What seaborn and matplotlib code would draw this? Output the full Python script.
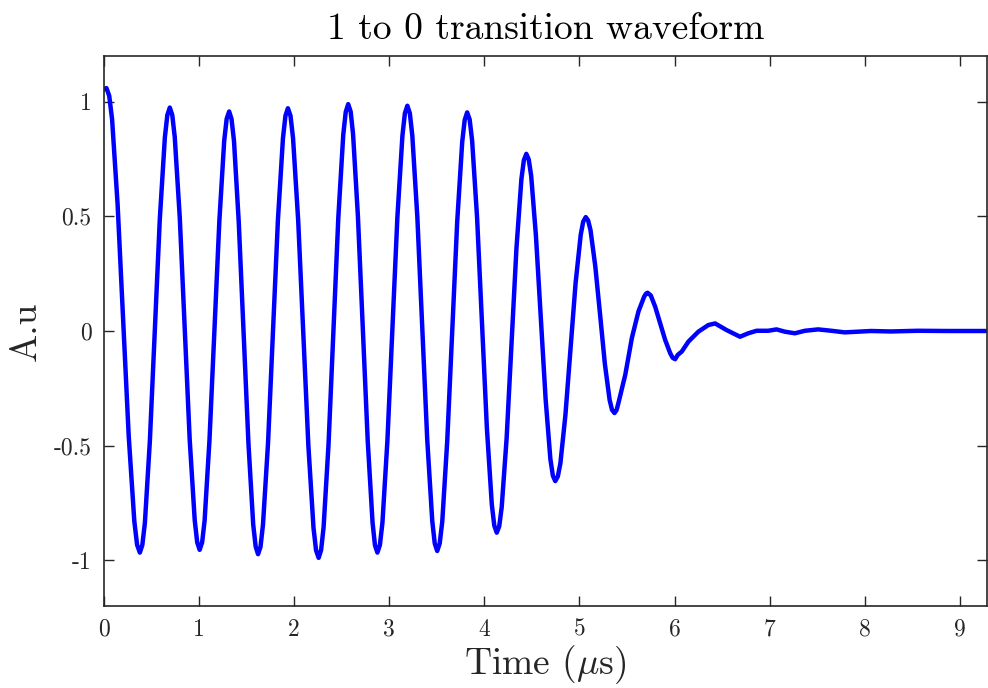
import matplotlib
matplotlib.use("Agg")
import matplotlib.pyplot as plt
import numpy as np
import pandas as pd
import seaborn as sns

# waveform (time in us, amplitude in a.u.)
t_us = [
    0.000, 0.026, 0.055, 0.085, 0.143, 0.202, 0.260, 0.319, 0.348,
    0.377, 0.403, 0.430, 0.482, 0.535, 0.587, 0.640, 0.666,
    0.692, 0.718, 0.744, 0.797, 0.849, 0.901, 0.954, 0.980,
    1.006, 1.032, 1.058, 1.109, 1.161, 1.213, 1.264, 1.290,
    1.316, 1.341, 1.367, 1.417, 1.468, 1.519, 1.569, 1.595,
    1.620, 1.646, 1.672, 1.725, 1.777, 1.829, 1.882, 1.908,
    1.934, 1.961, 1.988, 2.042, 2.096, 2.149, 2.203, 2.230,
    2.257, 2.283, 2.309, 2.361, 2.413, 2.464, 2.516, 2.542,
    2.568, 2.594, 2.619, 2.670, 2.722, 2.773, 2.824, 2.849,
    2.875, 2.901, 2.928, 2.980, 3.033, 3.085, 3.138, 3.164,
    3.190, 3.216, 3.242, 3.295, 3.347, 3.399, 3.452, 3.478,
    3.504, 3.530, 3.557, 3.609, 3.662, 3.714, 3.767, 3.793,
    3.819, 3.845, 3.871, 3.923, 3.975, 4.026, 4.078, 4.104,
    4.130, 4.156, 4.182, 4.234, 4.286, 4.337, 4.389, 4.415,
    4.441, 4.466, 4.492, 4.542, 4.593, 4.644, 4.694, 4.720,
    4.745, 4.772, 4.799, 4.852, 4.906, 4.959, 5.013, 5.039,
    5.066, 5.091, 5.116, 5.166, 5.217, 5.267, 5.317, 5.342,
    5.368, 5.390, 5.412, 5.482, 5.551, 5.620, 5.680, 5.700,
    5.716, 5.750, 5.796, 5.849, 5.901, 5.954, 5.980,
    6.006, 6.034, 6.075, 6.146, 6.250, 6.355, 6.426, 6.547,
    6.688, 6.775, 6.862, 6.985, 7.072, 7.160, 7.265, 7.370,
    7.509, 7.649, 7.789, 8.065, 8.275, 8.558, 8.872, 9.271,
]
amp = [
    1.055, 1.060, 1.026, 0.924, 0.553, 0.046, -0.460, -0.831, -0.933,
    -0.967, -0.934, -0.837, -0.482, 0.004, 0.490, 0.845, 0.942,
    0.975, 0.942, 0.846, 0.493, 0.010, -0.473, -0.826, -0.922,
    -0.955, -0.922, -0.827, -0.477, 0.002, 0.480, 0.830, 0.926,
    0.958, 0.925, 0.829, 0.475, -0.008, -0.491, -0.845, -0.941,
    -0.974, -0.941, -0.844, -0.488, -0.001, 0.486, 0.842, 0.939,
    0.972, 0.939, 0.841, 0.482, -0.009, -0.500, -0.859, -0.957,
    -0.990, -0.956, -0.857, -0.495, 0.000, 0.495, 0.857, 0.956,
    0.990, 0.957, 0.859, 0.501, 0.012, -0.478, -0.836, -0.934,
    -0.967, -0.934, -0.836, -0.480, 0.008, 0.496, 0.852, 0.950,
    0.983, 0.950, 0.853, 0.497, 0.012, -0.474, -0.830, -0.927,
    -0.960, -0.927, -0.832, -0.482, -0.003, 0.476, 0.826, 0.921,
    0.954, 0.923, 0.831, 0.496, 0.037, -0.422, -0.757, -0.849,
    -0.880, -0.852, -0.769, -0.467, -0.054, 0.360, 0.662, 0.745,
    0.773, 0.749, 0.677, 0.416, 0.059, -0.298, -0.559, -0.631,
    -0.655, -0.635, -0.578, -0.367, -0.079, 0.209, 0.420, 0.477,
    0.497, 0.482, 0.440, 0.283, 0.070, -0.144, -0.301, -0.344,
    -0.358, -0.345, -0.310, -0.190, -0.030, 0.085, 0.150, 0.163,
    0.167, 0.155, 0.106, 0.033, -0.039, -0.097, -0.117,
    -0.123, -0.104, -0.090, -0.046, -0.003, 0.026, 0.033, 0.004,
    -0.025, -0.010, 0.001, 0.001, 0.007, -0.003, -0.010, 0.001,
    0.007, 0.001, -0.006, 0.000, -0.002, 0.001, 0.000, 0.000,
]

x_ticks = [0, 1, 2, 3, 4, 5, 6, 7, 8, 9]
y_ticks = [-1, -0.5, 0, 0.5, 1]
y_labels = ["-1", "-0.5", "0", "0.5", "1"]

df = pd.DataFrame({"t": t_us, "a": amp})

sns.set_style("ticks")
plt.rcParams["font.family"] = "serif"
plt.rcParams["font.serif"] = ["cmr10"]
plt.rcParams["mathtext.fontset"] = "cm"
plt.rcParams["axes.unicode_minus"] = False

fig = plt.figure(figsize=(9.88, 6.88), dpi=100)
ax = fig.add_axes([104 / 988, 82 / 688, 882.5 / 988, 550 / 688])

line = sns.lineplot(data=df, x="t", y="a", sort=False, estimator=None,
                    color="#0000ff", linewidth=3.2, ax=ax, legend=False)
ax.lines[0].set_solid_joinstyle("round")

ax.set_xlim(0, 9.28)
ax.set_ylim(-1.2, 1.2)
ax.set_xticks(x_ticks)
ax.set_xticklabels([str(v) for v in x_ticks])
ax.set_yticks(y_ticks)
ax.set_yticklabels(y_labels)

axc = "#262626"
for s in ax.spines.values():
    s.set_visible(True)
    s.set_color(axc)
    s.set_linewidth(1.2)
ax.tick_params(direction="in", length=7, width=1.0, top=True, right=True,
               labelsize=17, colors=axc, pad=9)

ax.set_title("1 to 0 transition waveform", fontsize=27, pad=12, color="black")
ax.set_xlabel("Time ($\\mu$s)", fontsize=27, labelpad=2)
ax.set_ylabel("A.u", fontsize=27, labelpad=8)

fig.savefig("out.png", dpi=100)
